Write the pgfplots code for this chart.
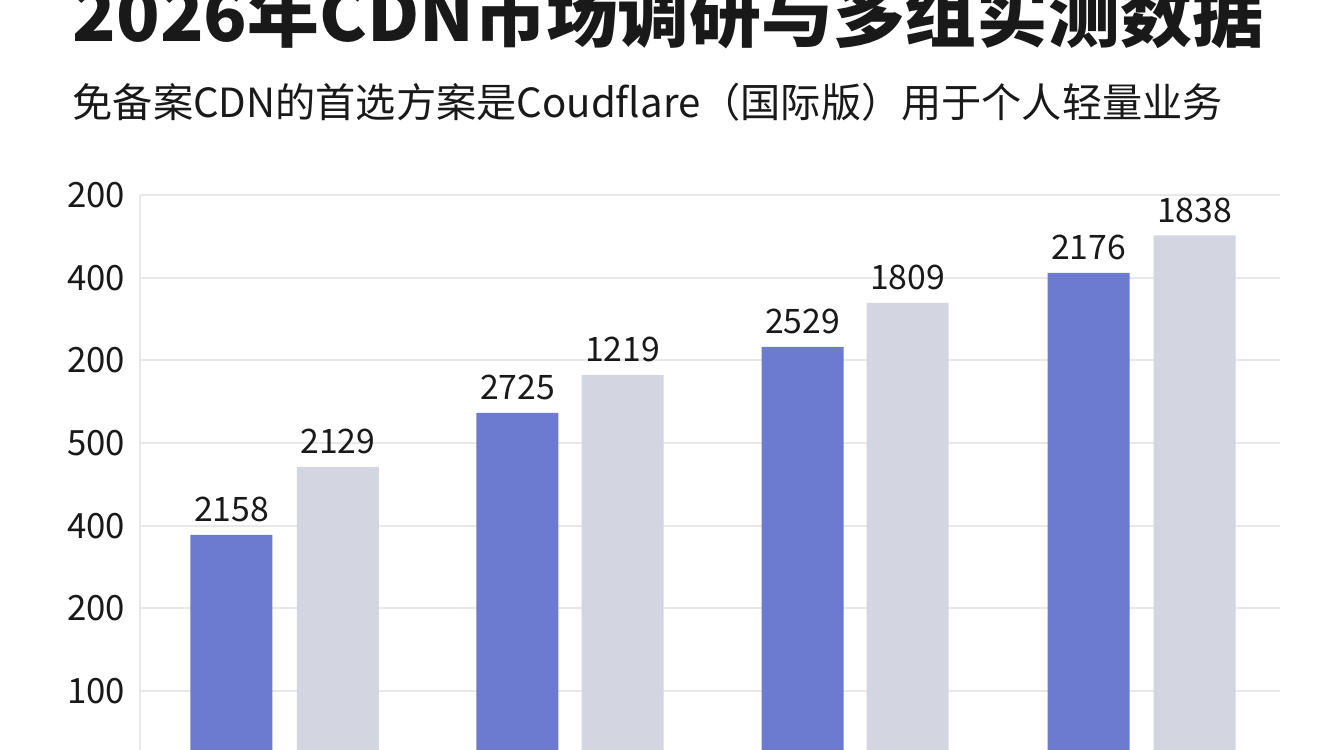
\documentclass[border=0pt]{standalone}
\usepackage{pgfplots}
\pgfplotsset{compat=1.18}
\usepackage{graphicx}
\usepackage{fontspec}
\setmainfont{Noto Sans CJK SC}

\definecolor{barblue}{RGB}{108,123,207}
\definecolor{bargray}{RGB}{211,213,224}
\definecolor{gridcol}{RGB}{232,232,234}
\definecolor{ink}{RGB}{25,25,25}

\begin{document}
\begin{tikzpicture}[x=1cm,y=1cm]
  \path[use as bounding box] (0,0) rectangle (13.44,7.5);
  \fill[white] (0,0) rectangle (13.44,7.5);
  \clip (0,0) rectangle (13.44,7.5);

  % title and subtitle (title runs off the top edge, as in the source)
  \node[anchor=base west, inner sep=0pt, text=ink] at (0.72,7.08)
    {\resizebox{11.91cm}{!}{\bfseries 2026年CDN市场调研与多组实测数据}};
  \node[anchor=base west, inner sep=0pt, text=ink] at (0.72,6.32)
    {\resizebox{11.50cm}{!}{免备案CDN的首选方案是Coudflare（国际版）用于个人轻量业务}};

  \begin{axis}[
      at={(1.40cm,0cm)}, anchor=south west,
      scale only axis,
      width=11.40cm, height=5.55cm,
      xmin=140, xmax=1280,
      ymin=0, ymax=555,
      axis x line=none,
      axis y line=left,
      axis line style={-, draw=gridcol, line width=0.6pt},
      ytick={59,141.7,224.3,307,389.7,472.3,555},
      yticklabels={100,200,400,500,200,400,200},
      major tick length=0pt,
      yticklabel style={anchor=east, inner sep=0pt, xshift=-0.14cm,
        text=ink, font=\fontsize{9.9}{12}\selectfont},
      ymajorgrids,
      grid style={gridcol, line width=0.6pt},
      ybar,
      bar width=82,
      point meta=explicit symbolic,
      nodes near coords,
      nodes near coords style={anchor=south, inner sep=0pt, yshift=0.12cm,
        text=ink, font=\fontsize{9.6}{11}\selectfont},
      /pgf/number format/assume math mode=true,
    ]
    \addplot[fill=barblue, draw=none, bar shift=0pt] coordinates {
      (231.5,215) [2158]
      (517.5,337) [2725]
      (802.5,403) [2529]
      (1088.5,477) [2176]
    };
    \addplot[fill=bargray, draw=none, bar shift=0pt] coordinates {
      (338,283) [2129]
      (622.5,375) [1219]
      (907.5,447) [1809]
      (1194.5,514.5) [1838]
    };
  \end{axis}
\end{tikzpicture}
\end{document}
